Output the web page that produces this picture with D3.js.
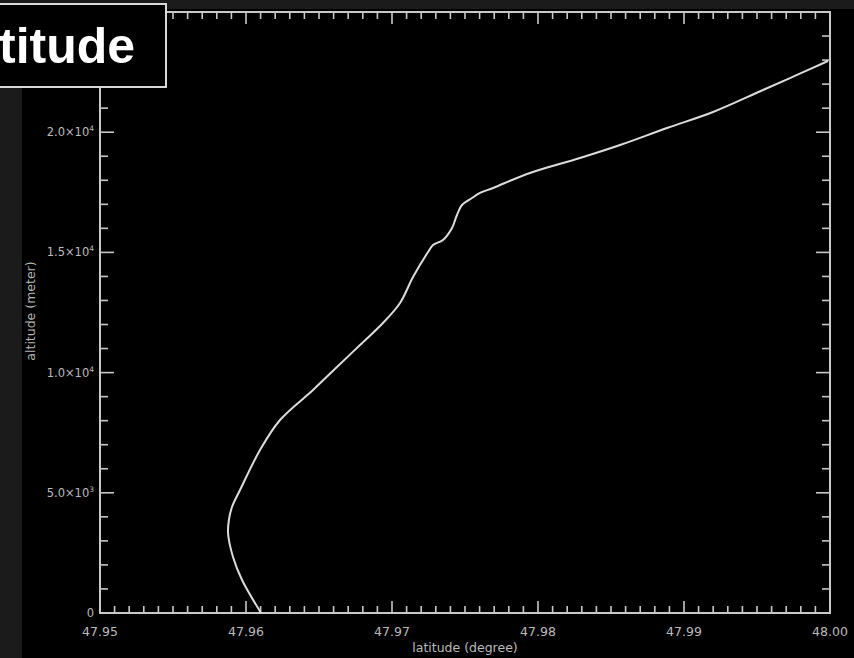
<!DOCTYPE html>
<html><head><meta charset="utf-8">
<script src="https://cdn.jsdelivr.net/npm/d3@7"></script>
<style>
html,body{margin:0;padding:0;background:#000;overflow:hidden}
svg{display:block}
</style></head>
<body>
<script>
const latitude = [47.96103,47.95973,47.95911,47.95877,47.95883,47.95904,47.95959,47.96096,47.96233,47.96459,47.96623,47.96781,47.96938,47.97055,47.97144,47.97247,47.97281,47.97349,47.97411,47.97445,47.97479,47.97548,47.97603,47.97692,47.97945,47.98288,47.98562,47.98884,47.99199,47.99541,47.99774,47.99986];
const altitude = [0,1373,2330,3328,3870,4409,5117,6780,8028,9276,10233,11148,12063,12895,13977,15017,15308,15516,16015,16556,16972,17264,17472,17680,18304,18928,19468,20176,20842,21757,22381,22963];
const xTickValues = [47.95,47.96,47.97,47.98,47.99,48.00];
const xTickLabels = ["47.95","47.96","47.97","47.98","47.99","48.00"];
const yTickValues = [0,5000,10000,15000,20000];
const yTickLabels = [["0",""],["5.0\u00d710","3"],["1.0\u00d710","4"],["1.5\u00d710","4"],["2.0\u00d710","4"]];
const titleText = "titude";
const xTitle = "latitude (degree)";
const yTitle = "altitude (meter)";

const W = 854, H = 658;
const L = 100, R = 830, T = 12, B = 613;
const svg = d3.select("body").append("svg").attr("width", W).attr("height", H);
svg.append("rect").attr("width", W).attr("height", H).attr("fill", "#000");
svg.append("rect").attr("x",0).attr("y",0).attr("width",W).attr("height",9).attr("fill","#1b1b1b");
svg.append("rect").attr("x",0).attr("y",0).attr("width",22).attr("height",H).attr("fill","#1b1b1b");

const x = d3.scaleLinear().domain([47.95, 48.00]).range([L, R]);
const y = d3.scaleLinear().domain([0, 25000]).range([B, T]);
const axisColor = "#c8c8c8";
const fontFam = "'DejaVu Sans', sans-serif";

svg.append("rect").attr("x",L).attr("y",T).attr("width",R-L).attr("height",B-T)
  .attr("fill","none").attr("stroke",axisColor).attr("stroke-width",2);

const xMinor = d3.range(0, 51).map(i => 47.95 + i*0.001);
const yMinor = d3.range(0, 26).map(i => i*1000);
const isMajX = v => xTickValues.some(t => Math.abs(t - v) < 1e-7);
const isMajY = v => yTickValues.includes(v);

const g = svg.append("g").attr("stroke", axisColor).attr("stroke-width", 1.6);
xMinor.forEach(v => {
  const len = isMajX(v) ? 12 : 7;
  g.append("line").attr("x1",x(v)).attr("x2",x(v)).attr("y1",B).attr("y2",B-len);
  g.append("line").attr("x1",x(v)).attr("x2",x(v)).attr("y1",T).attr("y2",T+len);
});
yMinor.forEach(v => {
  const len = isMajY(v) ? 14 : 8;
  g.append("line").attr("x1",L).attr("x2",L+len).attr("y1",y(v)).attr("y2",y(v));
  g.append("line").attr("x1",R).attr("x2",R-len).attr("y1",y(v)).attr("y2",y(v));
});

xTickValues.forEach((v,i) => {
  svg.append("text").attr("x", x(v)).attr("y", 636).attr("text-anchor","middle")
    .attr("fill","#bbb").attr("font-family",fontFam).attr("font-size",12.5)
    .text(xTickLabels[i]);
});
yTickValues.forEach((v,i) => {
  const t = svg.append("text").attr("x", 94).attr("y", y(v)+4).attr("text-anchor","end")
    .attr("fill","#bbb").attr("font-family",fontFam).attr("font-size",11.5);
  t.append("tspan").text(yTickLabels[i][0]);
  if (yTickLabels[i][1]) t.append("tspan").attr("dy",-5).attr("font-size",7.5).text(yTickLabels[i][1]);
});
svg.append("text").attr("x", 465).attr("y", 652).attr("text-anchor","middle")
  .attr("fill","#bbb").attr("font-family",fontFam).attr("font-size",12.5).text(xTitle);
svg.append("text").attr("transform","translate(35,311) rotate(-90)").attr("text-anchor","middle")
  .attr("fill","#bbb").attr("font-family",fontFam).attr("font-size",12.5).text(yTitle);

const pts = latitude.map((v,i) => [v, altitude[i]]);
const line = d3.line().x(d => x(d[0])).y(d => y(d[1])).curve(d3.curveCatmullRom.alpha(0.5));
svg.append("path").datum(pts).attr("d", line).attr("fill","none")
  .attr("stroke","#dcdcdc").attr("stroke-width",2);

svg.append("rect").attr("x",-3).attr("y",4).attr("width",169).attr("height",83)
  .attr("fill","#000").attr("stroke","#d8d8d8").attr("stroke-width",2);
svg.append("text").attr("x",-1).attr("y",63).attr("fill","#fff")
  .attr("font-family","'Liberation Sans', Arial, sans-serif").attr("font-weight","bold")
  .attr("font-size",50).text(titleText);
</script>
</body></html>
